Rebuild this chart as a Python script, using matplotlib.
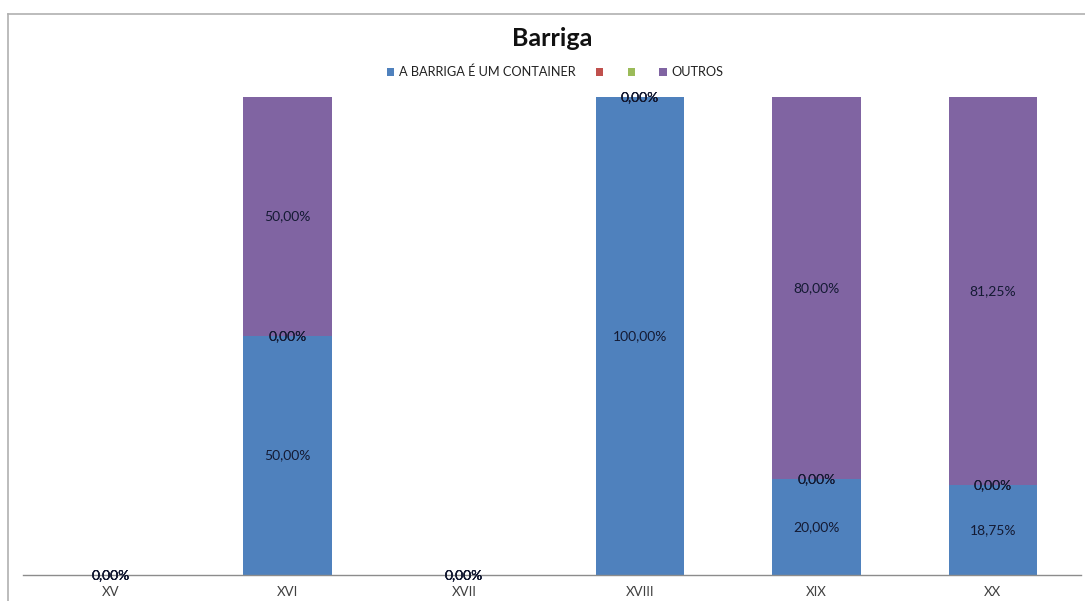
import matplotlib
matplotlib.use("Agg")
import matplotlib.pyplot as plt
from matplotlib.lines import Line2D
from matplotlib.patches import Patch

plt.rcParams['font.family'] = ['Lato', 'DejaVu Sans']

# share of each answer per century (percent)
centuries = ["XV", "XVI", "XVII", "XVIII", "XIX", "XX"]
series_names = ["A BARRIGA É UM CONTAINER", "", "", "OUTROS"]
container = [0.0, 50.0, 0.0, 100.0, 20.0, 18.75]
red_blank = [0.0, 0.0, 0.0, 0.0, 0.0, 0.0]
green_blank = [0.0, 0.0, 0.0, 0.0, 0.0, 0.0]
outros = [0.0, 50.0, 0.0, 0.0, 80.0, 81.25]

series = [container, red_blank, green_blank, outros]
colors = ["#4F81BD", "#C0504D", "#9BBB59", "#8064A2"]
label_color = "#141a33"

fig = plt.figure(figsize=(10.85, 6.01), dpi=100)
ax = fig.add_axes([23 / 1085, 26 / 601, 1058 / 1085, 478 / 601])

x = range(len(centuries))
bottom = [0.0] * len(centuries)
for vals, col in zip(series, colors):
    ax.bar(x, [v / 100 for v in vals], width=0.5, bottom=[b / 100 for b in bottom],
           color=col, edgecolor="none")
    for i, v in enumerate(vals):
        yc = (bottom[i] + v / 2) / 100
        ax.text(i, yc, f"{v:.2f}%".replace(".", ","), ha="center", va="center",
                fontsize=10, color=label_color)
    bottom = [b + v for b, v in zip(bottom, vals)]

ax.set_xlim(-0.5, 5.5)
ax.set_ylim(0, 1)
ax.set_yticks([])
ax.set_xticks(list(x))
ax.set_xticklabels(centuries, fontsize=9.5, color="#404040")
ax.tick_params(axis="x", length=0, pad=8)
for side in ["top", "right", "left"]:
    ax.spines[side].set_visible(False)
ax.spines["bottom"].set_color("#8c8c8c")
ax.spines["bottom"].set_linewidth(1.0)

# chart area frame (left and top edges)
fig.add_artist(Line2D([8 / 1085, 8 / 1085], [0, 1 - 14 / 601],
                      transform=fig.transFigure, color="#b0b0b0", lw=1.2))
fig.add_artist(Line2D([8 / 1085, 1], [1 - 14 / 601, 1 - 14 / 601],
                      transform=fig.transFigure, color="#b0b0b0", lw=1.2))

fig.text(552 / 1085, 1 - 39 / 601, "Barriga", ha="center", va="center",
         fontsize=18, fontweight="bold", color="#111111")

handles = [Patch(facecolor=c, edgecolor="none") for c in colors]
fig.legend(handles, series_names, loc="center", ncol=4,
           bbox_to_anchor=(555 / 1085, 1 - 72 / 601), frameon=False,
           fontsize=9.2, handlelength=0.55, handleheight=0.55, handletextpad=0.35,
           columnspacing=1.6, labelcolor="#222222")

fig.savefig("out.png", dpi=100)
